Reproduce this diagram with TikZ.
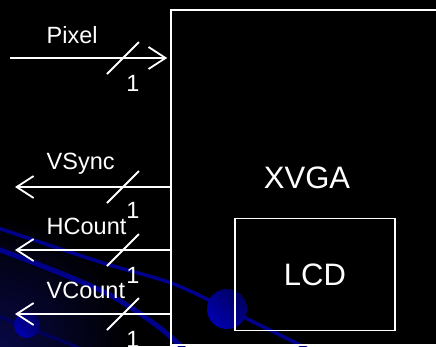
\documentclass[tikz,border=0pt]{standalone}
\usepackage{fontspec}
\setmainfont{Liberation Sans}
\usetikzlibrary{arrows.meta}
\definecolor{swoosh}{RGB}{0,0,140}
\definecolor{swooshdark}{RGB}{0,0,95}
\definecolor{glow}{RGB}{8,8,70}
\definecolor{balllight}{RGB}{0,0,175}
\definecolor{balldark}{RGB}{0,0,95}
\begin{document}
\begin{tikzpicture}[x=1pt, y=-1pt,
    sig/.style={white, line width=1.8pt},
    sigarrow/.style={-{Straight Barb[length=17pt, width=22pt, line width=1.8pt]}},
    blockbox/.style={draw=white, line width=1.6pt, inner sep=0pt, text=white,
        font=\fontsize{31}{36}\selectfont},
    lbl/.style={text=white, inner sep=0pt, anchor=base west,
        font=\fontsize{23.5}{28}\selectfont},
    width1/.style={lbl, anchor=base}]
    % 1. Nen
    \useasboundingbox (0,0) rectangle (436,346);
    \fill[black] (0,0) rectangle (436,346);
    \clip (0,0) rectangle (436,346);

    % 2. Trang tri mau xanh
    \shade[inner color=glow, outer color=black] (0,346) circle (130);
    \draw[swoosh, line width=3.5pt] plot[smooth] coordinates
        {(-5,227) (100,262) (171,283) (227,309) (310,350)};
    \draw[swoosh, line width=5pt] plot[smooth] coordinates
        {(-5,248) (50,269) (100,290) (130,307) (160,328) (190,354)};
    \draw[swooshdark, line width=3pt] (-5,315) -- (85,350);
    \shade[top color=balldark, bottom color=balllight, shading angle=-45]
        (227,309) circle (20);
    \shade[top color=balldark, bottom color=balllight, shading angle=-45]
        (27,325) circle (13);

    % 3. Cac khoi
    \node[blockbox, minimum width=272pt, minimum height=335pt] (xvga) at (307,177.5) {XVGA};
    \node[blockbox, minimum width=160pt, minimum height=112pt] (lcd) at (315,274.5) {LCD};

    % 4. Tin hieu vao / ra
    \coordinate (pixin) at (10,58);
    \coordinate (vsync) at (15,187);
    \coordinate (hcount) at (15,250);
    \coordinate (vcount) at (15,314);
    \draw[sig, sigarrow, shorten >=3pt] (pixin) -- (pixin -| xvga.west);
    \draw[sig, sigarrow] (vsync -| xvga.west) -- (vsync);
    \draw[sig, sigarrow] (hcount -| xvga.west) -- (hcount);
    \draw[sig, sigarrow] (vcount -| xvga.west) -- (vcount);

    % 5. Do rong bus
    \foreach \y in {58,187,250,314}
        \draw[sig] (107,\y+16) -- (139,\y-16);

    % 6. Nhan
    \node[lbl] (pixellbl) at (46.5,43) {Pixel};
    \node[lbl] (vsynclbl) at (46.5,169) {VSync};
    \node[lbl] (hcountlbl) at (46.5,234) {HCount};
    \node[lbl] (vcountlbl) at (46.5,298) {VCount};
    \node[width1] (pixelw) at (133,91) {1};
    \node[width1] (vsyncw) at (133,218) {1};
    \node[width1] (hcountw) at (133,283) {1};
    \node[width1] (vcountw) at (133,347) {1};
\end{tikzpicture}
\end{document}
